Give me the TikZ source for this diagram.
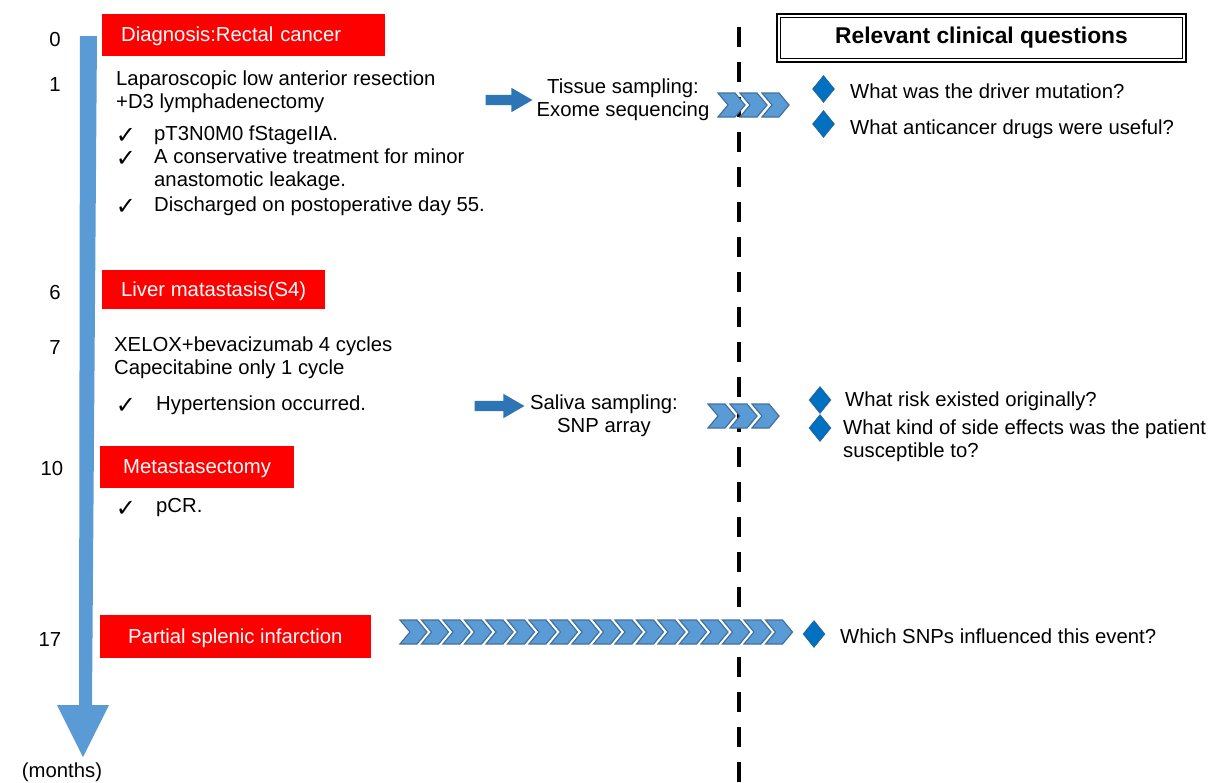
\documentclass[tikz,border=0pt]{standalone}
\usepackage{fontspec}
\setmainfont{Liberation Sans}
\newfontfamily\symfont{DejaVu Sans}
\usetikzlibrary{positioning,shapes.geometric,shapes.arrows}

\definecolor{eventred}{HTML}{FF0000}
\definecolor{timeblue}{HTML}{5B9BD5}
\definecolor{arrowblue}{HTML}{2E75B6}
\definecolor{chevfill}{HTML}{5B9BD5}
\definecolor{chevline}{HTML}{41719C}
\definecolor{qblue}{HTML}{0070C0}
\definecolor{qline}{HTML}{2F5F8F}

\begin{document}
\begin{tikzpicture}[x=1pt, y=-1pt, font=\fontsize{20.3}{23}\selectfont,
    event/.style={fill=eventred, text=white, anchor=west, minimum height=42pt, inner xsep=19pt, text height=15pt, text depth=2pt},
    month/.style={anchor=center, inner sep=0pt},
    note/.style={anchor=west, align=left, inner sep=0pt},
    tick/.style={inner sep=0pt, font=\symfont\fontsize{24}{26}\selectfont},
    sample/.style={align=center, inner sep=0pt},
    fatarrow/.style={single arrow, fill=arrowblue, inner xsep=0pt, inner ysep=5pt, single arrow head extend=7pt, single arrow tip angle=60},
    chevron/.style={fill=chevfill, draw=chevline, line width=1.2pt, line join=miter},
    bullet/.style={diamond, fill=qblue, draw=qline, line width=0.6pt, minimum width=22pt, minimum height=27pt, inner sep=0pt},
    question/.style={anchor=west, align=left, inner sep=0pt},
    titlebox/.style={draw, line width=1pt, minimum width=402pt, minimum height=41pt, font=\bfseries\fontsize{22.8}{26}\selectfont},
    divider/.style={line width=4pt, dash pattern=on 20pt off 15pt}]
    \useasboundingbox (0,0) rectangle (1218,782);

    % time axis
    \fill[timeblue] (80,36) -- (97,36) -- (92,705) -- (109,705) -- (83,757) -- (57,705) -- (79,705) -- cycle;
    \node(unit) [month] at (62,772) {(months)};

    \node(m0)  [month] at (55,40)  {0};
    \node(m1)  [month] at (55,85)  {1};
    \node(m6)  [month] at (55,293) {6};
    \node(m7)  [month] at (55,348) {7};
    \node(m10) [month] at (52,469) {10};
    \node(m17) [month] at (50,640) {17};

    % events
    \node(ev1) [event, text width=245pt, align=left] at (102,35) {Diagnosis:Rectal cancer};
    \node(ev2) [event, minimum height=39pt] at (102,289.5) {Liver matastasis(S4)};
    \node(ev3) [event, inner xsep=23pt] at (100,467) {Metastasectomy};
    \node(ev4) [event, inner xsep=28pt, minimum height=43pt] at (100,636.5) {Partial splenic infarction};

    \node(op1) [note] at (116,92) {Laparoscopic low anterior resection\\+D3 lymphadenectomy};
    \node(ck1) [tick] at (126,136) {✓};
    \node(it1) [note] at (154,135) {pT3N0M0 fStageIIA.};
    \node(ck2) [tick] at (126,159) {✓};
    \node(it2) [note] at (154,170) {A conservative treatment for minor\\anastomotic leakage.};
    \node(ck3) [tick] at (126,207) {✓};
    \node(it3) [note] at (154,206) {Discharged on postoperative day 55.};

    \node(ch1) [note] at (114,358) {XELOX+bevacizumab 4 cycles\\Capecitabine only 1 cycle};
    \node(ck4) [tick] at (126,406) {✓};
    \node(it4) [note] at (156,405) {Hypertension occurred.};
    \node(ck5) [tick] at (126,509) {✓};
    \node(it5) [note] at (156,508) {pCR.};

    % sampling
    \node(arr1) [fatarrow, minimum height=47pt] at (504.5,100) {};
    \node(tis)  [sample] at (623,100) {Tissue sampling:\\Exome sequencing};
    \node(arr2) [fatarrow, minimum height=50pt] at (495,406) {};
    \node(sal)  [sample] at (604,415.5) {Saliva sampling:\\SNP array};

    % divider
    \coordinate(divtop) at (739,27);
    \coordinate(divbot) at (739,782);
    \draw[divider] (divtop) -- (divbot);

    % chevrons
    \foreach \i in {0,1,2}
      \draw[chevron, shift={(718+\i*22,105)}] (0,-12) -- (17,-12) -- (27,0) -- (17,12) -- (0,12) -- (10,0) -- cycle;
    \foreach \i in {0,1,2}
      \draw[chevron, shift={(708+\i*22,416)}] (0,-12) -- (17,-12) -- (27,0) -- (17,12) -- (0,12) -- (10,0) -- cycle;
    \foreach \i in {0,...,17}
      \draw[chevron, shift={(400+\i*21.5,632)}] (0,-12) -- (17,-12) -- (27,0) -- (17,12) -- (0,12) -- (10,0) -- cycle;

    % questions
    \node(qtitle) [titlebox] at (981.5,38) {Relevant clinical questions};
    \draw[line width=1.6pt] ([shift={(-3,-3)}]qtitle.north west) rectangle ([shift={(3,3)}]qtitle.south east);

    \node(d1) [bullet] at (823.5,89)  {};
    \node(q1) [question] at (850,91)  {What was the driver mutation?};
    \node(d2) [bullet] at (823.5,124) {};
    \node(q2) [question] at (850,129) {What anticancer drugs were useful?};
    \node(d3) [bullet] at (820,400)   {};
    \node(q3) [question] at (845,401) {What risk existed originally?};
    \node(d4) [bullet] at (820,428)   {};
    \node(q4) [question] at (843,441) {What kind of side effects was the patient\\susceptible to?};
    \node(d5) [bullet] at (814,634)   {};
    \node(q5) [question] at (840,636) {Which SNPs influenced this event?};

  \end{tikzpicture}
\end{document}
